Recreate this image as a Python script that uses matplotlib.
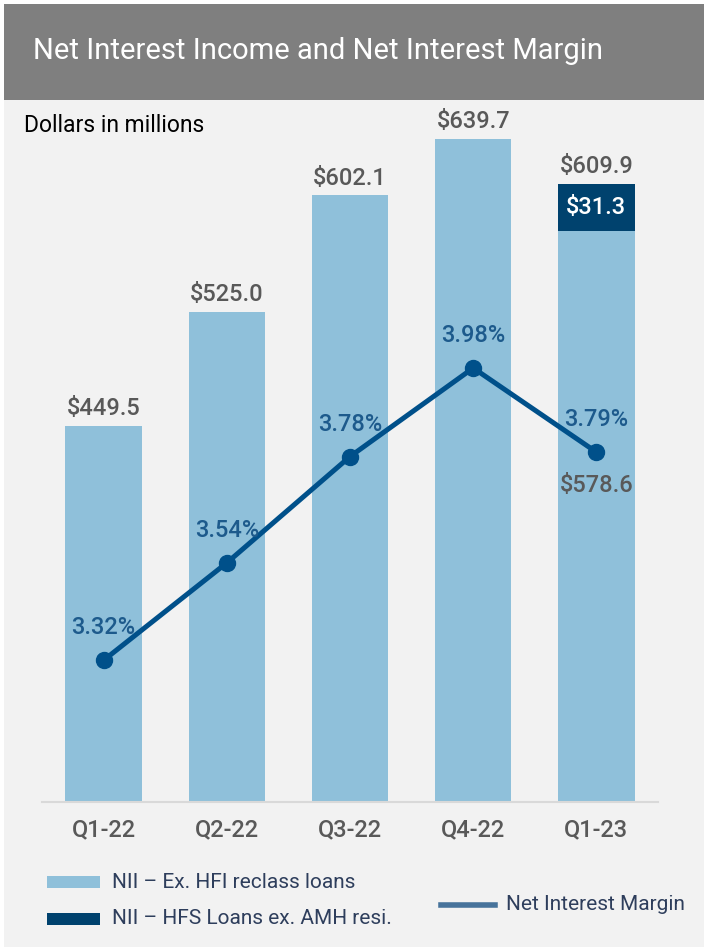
import matplotlib.pyplot as plt
from matplotlib.patches import Rectangle
from matplotlib.lines import Line2D

plt.rcParams['font.family'] = ['Roboto', 'DejaVu Sans']

# Net interest income ($M) and net interest margin by quarter
quarters = ['Q1-22', 'Q2-22', 'Q3-22', 'Q4-22', 'Q1-23']
nii_ex_hfi = [449.5, 525.0, 602.1, 639.7, 578.6]
nii_hfs = [0, 0, 0, 0, 31.3]
nii_total = [449.5, 525.0, 602.1, 639.7, 609.9]
nim = [3.32, 3.54, 3.78, 3.98, 3.79]

LIGHT = '#8fc0da'
DARK = '#00426e'
LINE = '#00508a'
GREY_TXT = '#595959'
NIM_TXT = '#1d5a8c'

W, H = 704, 951
fig = plt.figure(figsize=(W / 100, H / 100), dpi=100, facecolor='white')

def fx(px):
	return px / W

def fy(py):
	return 1 - py / H

# background panel and header band
fig.patches.append(Rectangle((fx(4), fy(947)), fx(700), 943 / H, transform=fig.transFigure,
	facecolor='#f2f2f2', edgecolor='none', zorder=-5))
fig.patches.append(Rectangle((fx(4), fy(100)), fx(700), 96 / H, transform=fig.transFigure,
	facecolor='#7f7f7f', edgecolor='none', zorder=-4))
fig.text(fx(33), fy(51), 'Net Interest Income and Net Interest Margin', color='white',
	fontsize=21, va='center', ha='left')
fig.text(fx(24), fy(125), 'Dollars in millions', color='black', fontsize=16.5, va='center', ha='left')

ax = fig.add_axes([fx(42), fy(802), fx(616), 682 / H])
ax.set_facecolor('none')
ax.set_zorder(2)
x = list(range(len(quarters)))

ax.bar(x, nii_ex_hfi, width=0.62, color=LIGHT, zorder=2)
ax.bar(x, nii_hfs, bottom=nii_ex_hfi, width=0.62, color=DARK, zorder=2)
ax.set_xlim(-0.5, 4.5)
ax.set_ylim(200, 652)

for s in ['top', 'right', 'left']:
	ax.spines[s].set_visible(False)
ax.spines['bottom'].set_color('#d9d9d9')
ax.spines['bottom'].set_linewidth(1.5)
ax.set_yticks([])
ax.set_xticks(x)
ax.set_xticklabels(quarters, fontsize=17, color=GREY_TXT, fontweight='medium')
ax.tick_params(axis='x', length=0, pad=12)

for i, v in enumerate(nii_total):
	ax.annotate('${:.1f}'.format(v), (i, v), xytext=(0, 4), textcoords='offset points',
		ha='center', va='bottom', fontsize=17, color=GREY_TXT, fontweight='medium', zorder=5)

# HFS segment value inside the dark block
ax.text(4, nii_ex_hfi[4] + nii_hfs[4] / 2, '${:.1f}'.format(nii_hfs[4]), ha='center', va='center',
	fontsize=17, color='white', fontweight='medium', zorder=5)

ax2 = ax.twinx()
ax2.set_zorder(3)
ax2.set_ylim(3.0, 4.54)
ax2.axis('off')
ax2.plot(x, nim, color=LINE, linewidth=3.6, marker='o', markersize=11.5, zorder=4)
for i, v in enumerate(nim):
	ax2.annotate('{:.2f}%'.format(v), (i, v), xytext=(0, 15), textcoords='offset points',
		ha='center', va='bottom', fontsize=17, color=NIM_TXT, fontweight='medium', zorder=5)

# $578.6 sits below the Q1-23 margin marker
ax2.annotate('${:.1f}'.format(nii_ex_hfi[4]), (4, nim[4]), xytext=(0, -16), textcoords='offset points',
	ha='center', va='top', fontsize=17, color=GREY_TXT, fontweight='medium', zorder=5)

# legend
LEG_TXT = '#2e3e5c'
fig.patches.append(Rectangle((fx(47), fy(888)), fx(53), 12 / H, transform=fig.transFigure,
	facecolor=LIGHT, edgecolor='none'))
fig.patches.append(Rectangle((fx(47), fy(925)), fx(53), 12 / H, transform=fig.transFigure,
	facecolor=DARK, edgecolor='none'))
fig.text(fx(112), fy(882), 'NII – Ex. HFI reclass loans', fontsize=15, color=LEG_TXT, va='center')
fig.text(fx(112), fy(919), 'NII – HFS Loans ex. AMH resi.', fontsize=15, color=LEG_TXT, va='center')
fig.lines.append(Line2D([fx(441), fx(495)], [fy(905), fy(905)], transform=fig.transFigure,
	color='#47739b', linewidth=4))
fig.text(fx(506), fy(905), 'Net Interest Margin', fontsize=15, color=LEG_TXT, va='center')

fig.savefig('out.png', dpi=100, facecolor=fig.get_facecolor())
